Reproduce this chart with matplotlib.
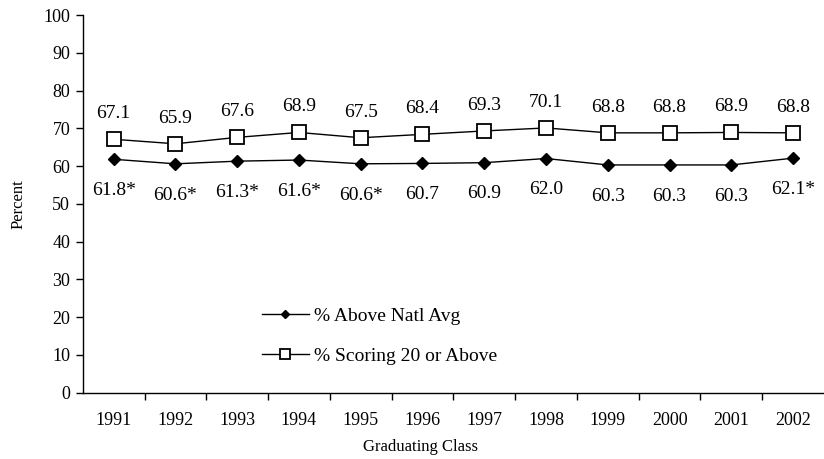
import numpy as np
import matplotlib
matplotlib.use('Agg')
import matplotlib.pyplot as plt

plt.rcParams['font.family'] = ['Liberation Serif', 'DejaVu Serif']

# data
years = ['1991', '1992', '1993', '1994', '1995', '1996',
         '1997', '1998', '1999', '2000', '2001', '2002']
above_avg = [61.8, 60.6, 61.3, 61.6, 60.6, 60.7, 60.9, 62.0, 60.3, 60.3, 60.3, 62.1]
above_labels = ['61.8*', '60.6*', '61.3*', '61.6*', '60.6*', '60.7',
                '60.9', '62.0', '60.3', '60.3', '60.3', '62.1*']
scoring20 = [67.1, 65.9, 67.6, 68.9, 67.5, 68.4, 69.3, 70.1, 68.8, 68.8, 68.9, 68.8]

x = np.arange(len(years))

fig = plt.figure(figsize=(8.24, 4.59), dpi=100)
ax = fig.add_axes([0.1004, 0.1445, 0.8996, 0.8228])

ax.plot(x, above_avg, color='black', lw=1.0, marker='D', markersize=6.2,
        markerfacecolor='black', markeredgecolor='black', label='% Above Natl Avg',
        clip_on=False)
ax.plot(x, scoring20, color='black', lw=1.0, marker='s', markersize=10,
        markerfacecolor='white', markeredgecolor='black', markeredgewidth=1.3,
        label='% Scoring 20 or Above', clip_on=False)

# value labels
for xi, v, lab in zip(x, above_avg, above_labels):
    ax.annotate(lab, (xi, v), xytext=(0, -22.5), textcoords='offset points',
                ha='center', va='center', fontsize=14)
for xi, v in zip(x, scoring20):
    ax.annotate(f'{v:.1f}', (xi, v), xytext=(0, 18.5), textcoords='offset points',
                ha='center', va='center', fontsize=14)

ax.set_xlim(-0.5, len(years) - 0.5)
ax.set_ylim(0, 100)
ax.set_yticks(np.arange(0, 101, 10))
ax.set_xticks(x)
ax.set_xticklabels(years)
ax.set_xticks(x[:-1] + 0.5, minor=True)
ax.tick_params(axis='x', which='major', length=0, pad=14, labelsize=13)
ax.tick_params(axis='x', which='minor', length=5, direction='out', width=1)
ax.tick_params(axis='y', length=5, direction='out', width=1, labelsize=13, pad=4)

for s in ['top', 'right']:
    ax.spines[s].set_visible(False)
for s in ['left', 'bottom']:
    ax.spines[s].set_linewidth(1.0)

ax.set_ylabel('Percent', fontsize=12, labelpad=12)
ax.set_xlabel('Graduating Class', fontsize=12, labelpad=9)
ax.xaxis.set_label_coords(0.455, -0.123)

ax.legend(loc='upper left', bbox_to_anchor=(0.306, 0.352), bbox_transform=fig.transFigure,
          frameon=False, fontsize=14, handlelength=2.4, labelspacing=1.15,
          handletextpad=0.3, borderpad=0, markerscale=0.65)

fig.savefig('out.png', dpi=100)
